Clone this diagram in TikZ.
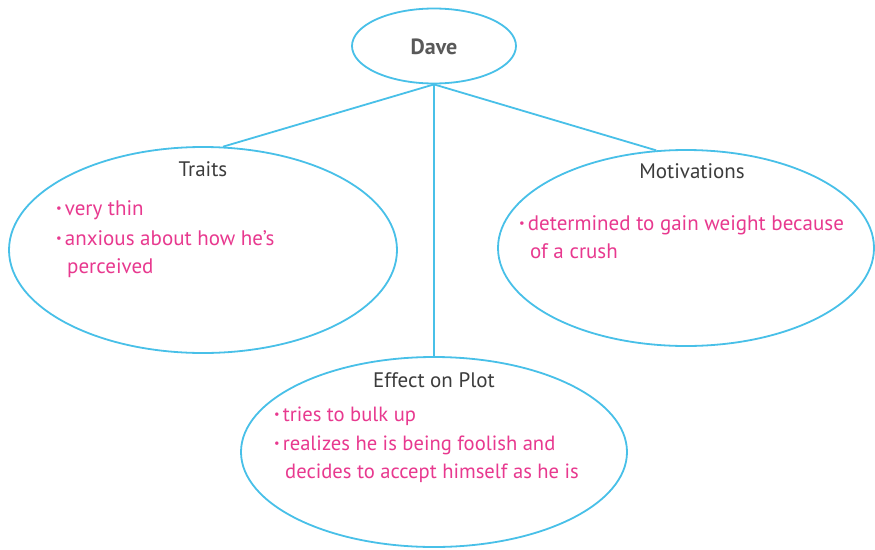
\documentclass[tikz,border=0pt]{standalone}
\usepackage{fontspec}
\setmainfont{PT Sans}
\usetikzlibrary{shapes.geometric}
\definecolor{lineblue}{HTML}{48C0E8}
\definecolor{pinktext}{HTML}{E8398F}
\definecolor{headgray}{HTML}{3C3C3C}
\newcommand{\bul}{\raisebox{0.28ex}{\scalebox{0.6}{•}}\hspace{3pt}}
\tikzset{
  bubble/.style={draw=lineblue, line width=1.8pt, ellipse, inner sep=0pt},
  link/.style={draw=lineblue, line width=1.8pt},
  head/.style={text=headgray, font=\fontsize{21}{22}\selectfont, anchor=base, inner sep=0pt},
  item/.style={text=pinktext, font=\fontsize{21}{22}\selectfont, anchor=base west, inner sep=0pt},
  plotitem/.style={item, font=\fontsize{20.6}{22}\selectfont},
}
\begin{document}
\begin{tikzpicture}[x=1pt,y=-1pt]
\useasboundingbox[fill=white] (0,0) rectangle (875,549);
% ellipses
\node[bubble, minimum width=164pt, minimum height=75pt] (dave) at (434,46) {};
\node[bubble, minimum width=388pt, minimum height=206pt] (traits) at (203,250) {};
\node[bubble, minimum width=376pt, minimum height=196pt] (motiv) at (686,248) {};
\node[bubble, minimum width=386pt, minimum height=190pt] (plot) at (434,452) {};
% connectors
\coordinate (hub) at (dave.south);
\draw[link] (hub) -- (traits.79);
\draw[link] (hub) -- (motiv.107);
\draw[link] (hub) -- (plot.north);
% texts
\node[text=headgray!85, font=\bfseries\fontsize{22}{24}\selectfont, anchor=base, inner sep=0pt] (tdave) at (434,54) {Dave};
\node[head] (ttraits) at (203,176) {Traits};
\node[head] (tmotiv) at (692,178) {Motivations};
\node[head] (tplot) at (434,387) {Effect on Plot};
% traits items
\node[item] (t1) at (56,215) {\bul very thin};
\node[item] (t2) at (56,245) {\bul anxious about how he’s};
\node[item] (t3) at (67,273) {perceived};
% motivations items
\node[item] (m1) at (519,230) {\bul determined to gain weight because};
\node[item] (m2) at (530,258) {of a crush};
% plot items
\node[plotitem] (p1) at (274,421) {\bul tries to bulk up};
\node[plotitem] (p2) at (274,450) {\bul realizes he is being foolish and};
\node[plotitem] (p3) at (285,478) {decides to accept himself as he is};
\end{tikzpicture}
\end{document}
